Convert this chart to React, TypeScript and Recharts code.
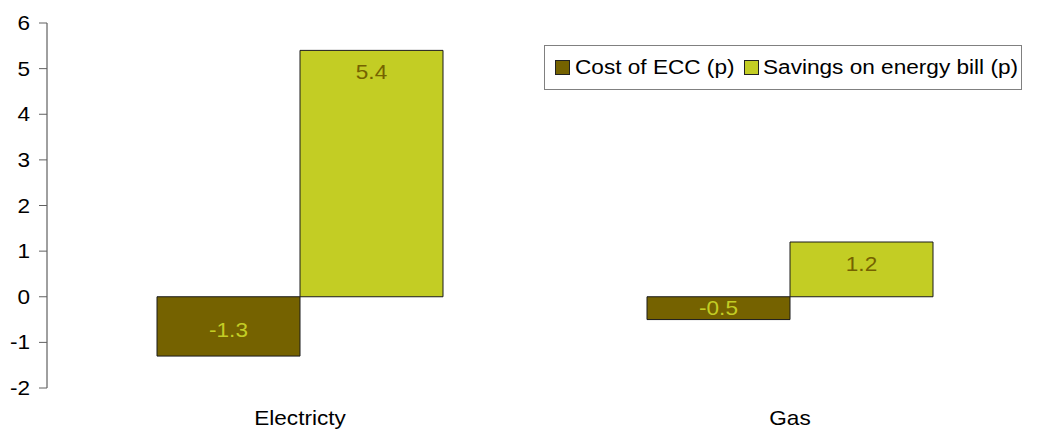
import React from 'react';
import { BarChart, Bar, XAxis, YAxis, ReferenceLine, Legend, LabelList } from 'recharts';

// Pence per unit of energy: cost of the ECC versus savings on the energy bill
const categories = ['Electricty', 'Gas'];
const costOfEcc = [-1.3, -0.5];
const savingsOnBill = [5.4, 1.2];
const yTicks = [-2, -1, 0, 1, 2, 3, 4, 5, 6];

const seriesNames = ['Cost of ECC (p)', 'Savings on energy bill (p)'];
const seriesColors = ['#756200', '#C3CD24'];

const data = categories.map((name, i) => ({
  name,
  cost: costOfEcc[i],
  savings: savingsOnBill[i],
}));

const FONT = '"Liberation Sans", Arial, sans-serif';
const FONT_SIZE = 20;
// Text is drawn slightly widened horizontally
const STRETCH = 1.13;

const WideText = ({
  x,
  y,
  anchor,
  fill,
  dy,
  children,
}: {
  x: number;
  y: number;
  anchor: 'start' | 'middle' | 'end';
  fill: string;
  dy: number;
  children: React.ReactNode;
}) => (
  <text
    transform={`translate(${x} ${y}) scale(${STRETCH} 1)`}
    x={0}
    y={dy}
    textAnchor={anchor}
    fill={fill}
    fontSize={FONT_SIZE}
    fontFamily={FONT}
  >
    {children}
  </text>
);

const YTick = (props: any) => (
  <WideText x={props.x} y={props.y} anchor="end" fill="#000" dy={7}>
    {props.payload.value}
  </WideText>
);

const XTick = (props: any) => (
  <WideText x={props.x} y={props.y} anchor="middle" fill="#000" dy={13}>
    {props.payload.value}
  </WideText>
);

// Value label placed near the outer end of the bar, kept inside short bars
const makeValueLabel = (textColor: string) => (props: any) => {
  const { x, y, width, height, value } = props;
  const top = Math.min(y, y + height);
  const bottom = Math.max(y, y + height);
  const mid = (top + bottom) / 2;
  const cy = value >= 0 ? Math.min(top + 22, mid) : Math.max(bottom - 26, mid);
  return (
    <WideText x={x + width / 2} y={cy} anchor="middle" fill={textColor} dy={7}>
      {value}
    </WideText>
  );
};

const legendSwatchLeft = [10, 199];
const legendTextLeft = [30, 218];

const LegendBox = () => (
  <div
    style={{
      position: 'relative',
      border: '1px solid #808080',
      background: '#fff',
      width: 478,
      height: 45,
      boxSizing: 'border-box',
      fontFamily: FONT,
      fontSize: FONT_SIZE,
      whiteSpace: 'nowrap',
      color: '#000',
    }}
  >
    {seriesNames.map((n, i) => (
      <React.Fragment key={n}>
        <span
          style={{
            position: 'absolute',
            left: legendSwatchLeft[i],
            top: 14,
            width: 15,
            height: 15,
            boxSizing: 'border-box',
            background: seriesColors[i],
            border: '1px solid #222',
          }}
        />
        <span
          style={{
            position: 'absolute',
            left: legendTextLeft[i],
            top: 8,
            lineHeight: '26px',
            transform: `scaleX(${STRETCH})`,
            transformOrigin: 'left center',
          }}
        >
          {n}
        </span>
      </React.Fragment>
    ))}
  </div>
);

export default function App() {
  return (
    <div style={{ width: 1042, height: 422 }}>
      <BarChart
        width={1042}
        height={422}
        data={data}
        margin={{ top: 15, right: 0, bottom: 0, left: 0 }}
        barGap={0}
      >
        <XAxis
          dataKey="name"
          axisLine={false}
          tickLine={false}
          tickSize={0}
          tickMargin={24}
          height={42}
          padding={{ left: 8, right: 15 }}
          tick={<XTick />}
        />
        <XAxis xAxisId="span" type="number" domain={[0, 2]} hide />
        <YAxis
          domain={[-2, 6]}
          ticks={yTicks}
          interval={0}
          width={39}
          tickSize={8}
          tickMargin={9}
          axisLine={{ stroke: '#404040' }}
          tickLine={{ stroke: '#606060' }}
          tick={<YTick />}
        />
        <ReferenceLine
          xAxisId="span"
          segment={[{ x: 0, y: 0 }, { x: 2, y: 0 }]}
          stroke="#808080"
        />
        <ReferenceLine
          xAxisId="span"
          segment={[{ x: 1, y: 0 }, { x: 1, y: -0.15 }]}
          stroke="#808080"
        />
        <Bar
          dataKey="cost"
          name={seriesNames[0]}
          fill={seriesColors[0]}
          stroke="#1a1a1a"
          strokeWidth={1}
          barSize={143}
          isAnimationActive={false}
        >
          <LabelList dataKey="cost" content={makeValueLabel(seriesColors[1])} />
        </Bar>
        <Bar
          dataKey="savings"
          name={seriesNames[1]}
          fill={seriesColors[1]}
          stroke="#1a1a1a"
          strokeWidth={1}
          barSize={143}
          isAnimationActive={false}
        >
          <LabelList dataKey="savings" content={makeValueLabel(seriesColors[0])} />
        </Bar>
        <Legend
          layout="vertical"
          align="center"
          verticalAlign="middle"
          content={<LegendBox />}
          wrapperStyle={{ position: 'absolute', left: 536, top: 37, width: 478, height: 45 }}
        />
      </BarChart>
    </div>
  );
}
